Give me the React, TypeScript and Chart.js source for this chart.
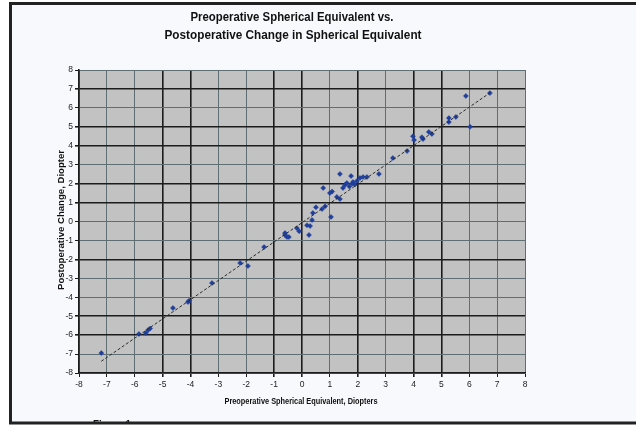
import React, { useEffect, useRef } from "react";
import { Chart, registerables } from "chart.js";

Chart.register(...registerables);

// Preoperative spherical equivalent (D) for each eye
const preopSE: number[] = [
  -7.2, -5.85, -5.6, -5.52, -5.45, -4.63, -4.09, -4.05, -3.23, -2.22, -1.94,
  -1.36, -0.61, -0.61, -0.54, -0.47, -0.18, -0.1, 0.18, 0.29, 0.25, 0.36, 0.39,
  0.5, 0.72, 0.83, 0.76, 1.04, 1.0, 1.08, 1.25, 1.36, 1.36, 1.47, 1.54, 1.61,
  1.76, 1.83, 1.9, 1.97, 2.08, 2.19, 2.33, 1.7, 1.8, 2.76, 3.26, 3.77, 3.98,
  4.02, 4.3, 4.34, 4.55, 4.66, 5.27, 5.27, 5.52, 5.88, 6.03, 6.74,
];

// Postoperative change in spherical equivalent (D), same order
const changeSE: number[] = [
  -6.95, -5.94, -5.89, -5.73, -5.65, -4.57, -4.25, -4.18, -3.25, -2.19, -2.35,
  -1.35, -0.61, -0.71, -0.82, -0.82, -0.35, -0.52, -0.2, -0.24, -0.71, 0.08,
  0.45, 0.75, 0.66, 0.8, 1.77, 0.24, 1.5, 1.58, 1.3, 1.19, 2.51, 1.77, 1.93,
  2.03, 2.4, 2.09, 1.95, 2.14, 2.3, 2.35, 2.35, 1.85, 2.0, 2.51, 3.35, 3.72,
  4.5, 4.3, 4.45, 4.35, 4.73, 4.62, 5.46, 5.25, 5.52, 6.63, 5.0, 6.78,
];

// Linear trend line end points
const trendX: number[] = [-7.2, 6.75];
const trendY: number[] = [-7.38, 6.8];

// Axis ticks
const axisMin = -8;
const axisMax = 8;
const tickStep = 1;

// Grid lines drawn heavier
const heavyX: number[] = [-5, -4, -1, 0, 2, 4, 5];
const heavyY: number[] = [7, 5, 4, 2, 1, -2, -5, -6];

const titleLines: string[] = [
  "Preoperative Spherical Equivalent vs.",
  "Postoperative Change in Spherical Equivalent",
];
const xTitle = "Preoperative Spherical Equivalent, Diopters";
const yTitle = "Postoperative Change, Diopter";
const figureLabel = "Figure 1";

const DARK = "#1c1c1c";
const LIGHT = "#5e6e72";

// Draws text squeezed horizontally to a given width (narrow face look)
function fitText(
  ctx: CanvasRenderingContext2D,
  text: string,
  cx: number,
  cy: number,
  width: number,
  font: string,
  rotate = 0
) {
  ctx.save();
  ctx.font = font;
  ctx.fillStyle = "#111";
  ctx.textAlign = "center";
  ctx.textBaseline = "middle";
  const w = ctx.measureText(text).width;
  ctx.translate(cx, cy);
  if (rotate) ctx.rotate(rotate);
  ctx.scale(width / w, 1);
  ctx.fillText(text, 0, 0);
  ctx.restore();
}

const decorPlugin = {
  id: "decor",
  beforeDraw(chart: any) {
    const { ctx, chartArea, width, height } = chart;
    ctx.save();
    ctx.fillStyle = "#ffffff";
    ctx.fillRect(0, 0, width, height);
    ctx.fillStyle = "#f8f9fc";
    ctx.fillRect(12, 4, width - 12, 418);
    ctx.fillStyle = "#c2c2c2";
    ctx.fillRect(
      chartArea.left,
      chartArea.top,
      chartArea.right - chartArea.left,
      chartArea.bottom - chartArea.top
    );
    ctx.restore();
  },
  afterDraw(chart: any) {
    const { ctx, width } = chart;
    fitText(ctx, titleLines[0], 292, 17, 203, "bold 13px 'Liberation Sans', Arial, sans-serif");
    fitText(ctx, titleLines[1], 293, 35, 257, "bold 13px 'Liberation Sans', Arial, sans-serif");
    fitText(ctx, xTitle, 301, 402, 153, "bold 9px 'Liberation Sans', Arial, sans-serif");
    fitText(ctx, yTitle, 62, 220, 140, "bold 9px 'Liberation Sans', Arial, sans-serif", -Math.PI / 2);

    // caption partly hidden under the frame
    ctx.save();
    ctx.beginPath();
    ctx.rect(0, 0, width, 422);
    ctx.clip();
    fitText(ctx, figureLabel, 112, 425, 38, "bold 11px 'Liberation Sans', Arial, sans-serif");
    ctx.restore();

    // outer frame
    ctx.save();
    ctx.strokeStyle = "#222";
    ctx.lineWidth = 3;
    ctx.beginPath();
    ctx.moveTo(width, 3.5);
    ctx.lineTo(10.5, 3.5);
    ctx.lineTo(10.5, 423);
    ctx.lineTo(width, 423);
    ctx.stroke();
    ctx.restore();
  },
};

export default function App() {
  const canvasRef = useRef<HTMLCanvasElement | null>(null);

  useEffect(() => {
    document.body.style.margin = "0";
    const canvas = canvasRef.current;
    if (!canvas) return;

    const points = preopSE.map((x, i) => ({ x, y: changeSE[i] }));
    const trend = trendX.map((x, i) => ({ x, y: trendY[i] }));

    const gridColor = (heavy: number[]) => (c: any) =>
      heavy.includes(c.tick?.value) ? DARK : LIGHT;
    const gridWidth = (heavy: number[]) => (c: any) =>
      heavy.includes(c.tick?.value) ? 1.6 : 1;

    const tickFont = { family: "'Liberation Sans', Arial, sans-serif", size: 8.5 };

    const chart = new Chart(canvas, {
      type: "scatter",
      data: {
        datasets: [
          {
            type: "line",
            label: "Trend",
            data: trend,
            borderColor: "#2a2a2a",
            borderWidth: 1,
            borderDash: [3, 2],
            pointRadius: 0,
            fill: false,
          },
          {
            label: "Eyes",
            data: points,
            backgroundColor: "#1f3f9c",
            borderColor: "#1f3f9c",
            pointStyle: "rectRot",
            pointRadius: 2.5,
            borderWidth: 0.5,
          },
        ],
      },
      options: {
        animation: false,
        responsive: false,
        devicePixelRatio: 1,
        layout: { padding: { left: 20, right: 111, top: 70, bottom: 12 } },
        plugins: {
          legend: { display: false },
          title: { display: false },
          tooltip: { enabled: false },
        },
        scales: {
          x: {
            type: "linear",
            min: axisMin,
            max: axisMax,
            afterFit: (s: any) => {
              s.height = 40;
            },
            ticks: { stepSize: tickStep, color: "#222", font: tickFont, padding: 3, maxRotation: 0 },
            grid: {
              color: gridColor(heavyX),
              lineWidth: gridWidth(heavyX),
              tickLength: 4,
              tickColor: DARK,
            },
            border: { color: DARK, width: 1.6 },
          },
          y: {
            type: "linear",
            min: axisMin,
            max: axisMax,
            afterFit: (s: any) => {
              s.width = 59;
            },
            ticks: { stepSize: tickStep, color: "#222", font: tickFont, padding: 2 },
            grid: {
              color: gridColor(heavyY),
              lineWidth: gridWidth(heavyY),
              tickLength: 4,
              tickColor: DARK,
            },
            border: { color: DARK, width: 1.6 },
          },
        },
      },
      plugins: [decorPlugin],
    });

    return () => chart.destroy();
  }, []);

  return (
    <div style={{ position: "absolute", left: 0, top: 0, width: 636, height: 425 }}>
      <canvas ref={canvasRef} width={636} height={425} style={{ display: "block" }} />
    </div>
  );
}
